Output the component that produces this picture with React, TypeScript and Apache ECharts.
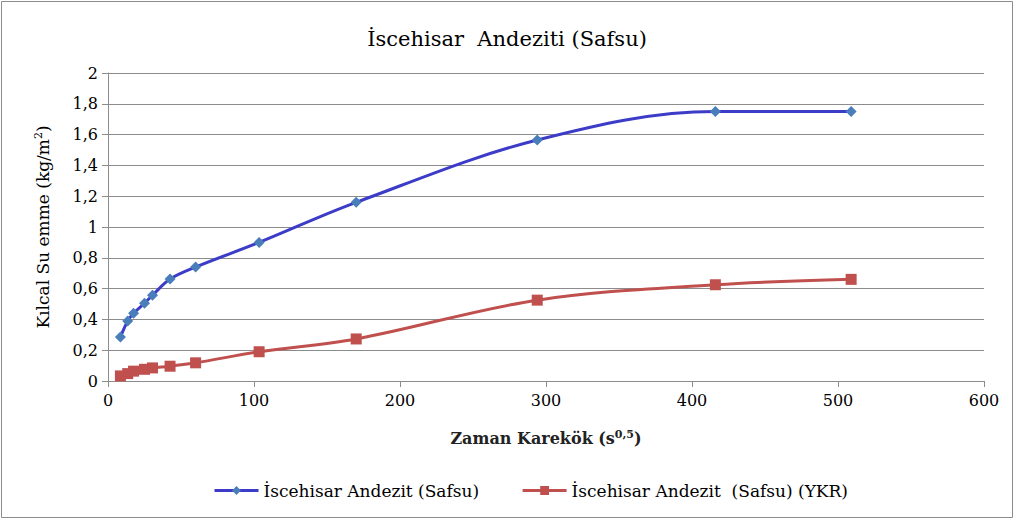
import React, { useEffect, useRef } from "react";
import * as echarts from "echarts";

const xValues = [8.5, 13.5, 17.5, 25, 30.5, 42.5, 60, 103.5, 170, 294, 416, 509];
const blueValues = [0.285, 0.39, 0.44, 0.505, 0.557, 0.662, 0.74, 0.9, 1.16, 1.565, 1.75, 1.75];
const redValues = [0.033, 0.048, 0.064, 0.076, 0.085, 0.096, 0.118, 0.19, 0.273, 0.525, 0.625, 0.66];
const blueName = "İscehisar Andezit (Safsu)";
const redName = "İscehisar Andezit  (Safsu) (YKR)";
const titleText = "İscehisar  Andeziti (Safsu)";

const FONT = "DejaVu Serif";

export default function App() {
  const ref = useRef<HTMLDivElement>(null);
  useEffect(() => {
    if (!ref.current) return;
    const chart = echarts.init(ref.current, null, { renderer: "svg" });
    const blueData = xValues.map((x, i) => [x, blueValues[i]]);
    const redData = xValues.map((x, i) => [x, redValues[i]]);
    chart.setOption({
      animation: false,
      backgroundColor: "#ffffff",
      title: {
        text: titleText,
        left: "center",
        top: 23,
        textStyle: { fontFamily: FONT, fontSize: 21, fontWeight: "normal", color: "#000" },
      },
      grid: { left: 108, right: 30, top: 73, bottom: 139, containLabel: false },
      graphic: [
        {
          type: "rect",
          shape: { x: 1.5, y: 1.5, width: 1011, height: 516 },
          style: { fill: "none", stroke: "#8c8c8c", lineWidth: 1 },
          silent: true,
        },
      ],
      legend: {
        bottom: 16,
        left: 208,
        itemWidth: 44,
        itemHeight: 11,
        itemGap: 42,
        lineStyle: { width: 3 },
        textStyle: { fontFamily: FONT, fontSize: 17, color: "#000" },
        data: [blueName, redName],
      },
      xAxis: {
        type: "value",
        min: 0,
        max: 600,
        interval: 100,
        name: "Zaman Karekök (s{sup|0,5})",
        nameLocation: "middle",
        nameGap: 48,
        nameTextStyle: {
          fontFamily: FONT,
          fontSize: 16,
          fontWeight: "bold",
          color: "#222",
          rich: { sup: { fontFamily: FONT, fontSize: 11, fontWeight: "bold", verticalAlign: "top", padding: [0, 0, 8, 0] } },
        },
        axisLine: { lineStyle: { color: "#8c8c8c" } },
        axisTick: { show: true, length: 6, lineStyle: { color: "#8c8c8c" } },
        axisLabel: { fontFamily: FONT, fontSize: 16, color: "#000", margin: 11 },
        splitLine: { show: false },
      },
      yAxis: {
        type: "value",
        min: 0,
        max: 2,
        interval: 0.2,
        name: "Kılcal Su emme (kg/m{sup|2})",
        nameLocation: "middle",
        nameGap: 56,
        nameTextStyle: {
          fontFamily: FONT,
          fontSize: 17,
          color: "#000",
          rich: { sup: { fontFamily: FONT, fontSize: 11, verticalAlign: "top", padding: [0, 0, 8, 0] } },
        },
        axisLine: { show: true, lineStyle: { color: "#8c8c8c" } },
        axisTick: { show: true, length: 6, lineStyle: { color: "#8c8c8c" } },
        axisLabel: {
          fontFamily: FONT,
          fontSize: 16,
          color: "#000",
          margin: 10,
          formatter: (v: number) => String(Math.round(v * 10) / 10).replace(".", ","),
        },
        splitLine: { show: true, lineStyle: { color: "#8c8c8c", width: 1 } },
      },
      series: [
        {
          name: blueName,
          type: "line",
          data: blueData,
          smooth: 0.35,
          symbol: "diamond",
          symbolSize: 11,
          lineStyle: { color: "#3c3cc8", width: 3 },
          itemStyle: { color: "#4a7ebb" },
        },
        {
          name: redName,
          type: "line",
          data: redData,
          smooth: 0.35,
          symbol: "rect",
          symbolSize: 11,
          lineStyle: { color: "#c0504d", width: 3 },
          itemStyle: { color: "#c0504d" },
        },
      ],
    });
    return () => chart.dispose();
  }, []);
  return (
    <div
      ref={ref}
      style={{ position: "fixed", left: 0, top: 0, width: 1014, height: 520 }}
    />
  );
}
